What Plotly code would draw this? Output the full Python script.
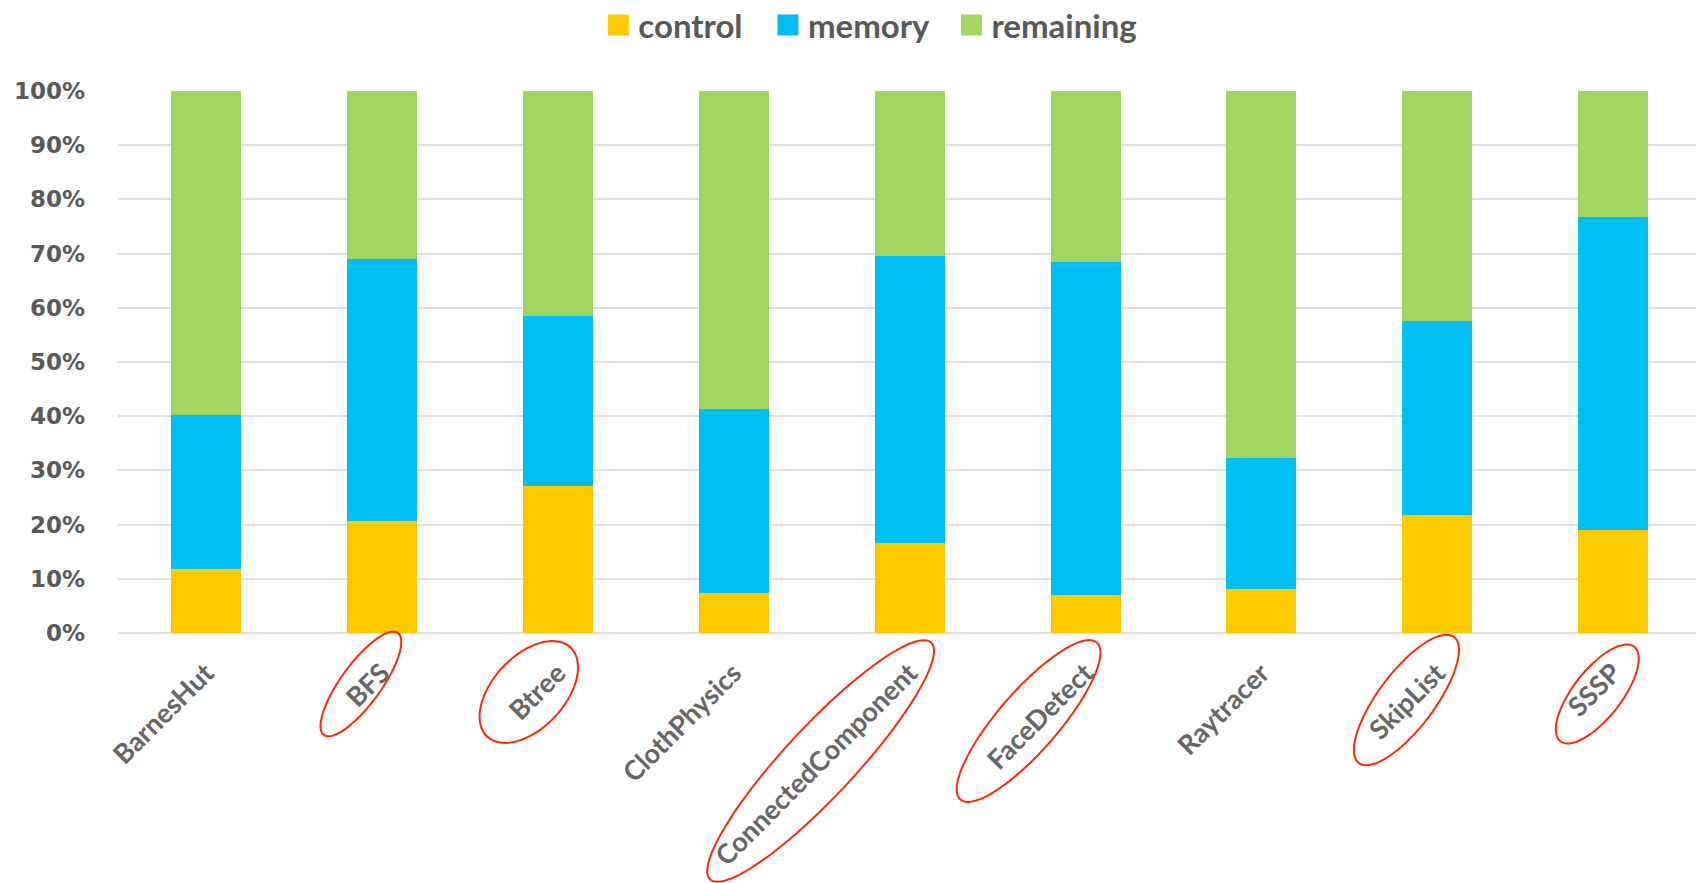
import numpy as np
import plotly.graph_objects as go

categories = ["BarnesHut", "BFS", "Btree", "ClothPhysics", "ConnectedComponent",
              "FaceDetect", "Raytracer", "SkipList", "SSSP"]
control = [11.9, 20.7, 27.2, 7.4, 16.6, 7.1, 8.2, 21.8, 19.0]
memory = [28.4, 48.3, 31.2, 34.0, 53.0, 61.4, 24.1, 35.8, 57.8]
remaining = [59.7, 31.0, 41.6, 58.6, 30.4, 31.5, 67.7, 42.4, 23.2]
y_ticks = [0, 10, 20, 30, 40, 50, 60, 70, 80, 90, 100]
y_tick_labels = [f"{v}%" for v in y_ticks]

series = [("control", control, "#FFC900", "legend", 0.3528),
          ("memory", memory, "#00BDF2", "legend2", 0.4528),
          ("remaining", remaining, "#A3D661", "legend3", 0.5610)]

# highlighted (circled) labels: category, centre offset x / y (px, up), semi-axes, angle
highlights = [("BFS", -21, -51, 63, 20, 54),
              ("Btree", -29, -59, 61, 36, 47),
              ("ConnectedComponent", -89, -128, 162, 35, 47),
              ("FaceDetect", -57, -88, 104, 30, 49),
              ("SkipList", -31, -67, 79, 28, 53),
              ("SSSP", -16, -61, 60, 24, 52)]

xpos = list(range(len(categories)))
fig = go.Figure()
legend_layouts = {}
for name, vals, col, leg, lx in series:
    fig.add_trace(go.Bar(x=xpos, y=vals, name=name, marker=dict(color=col, line=dict(width=0)),
                         legendgroup=name, showlegend=False))
    fig.add_trace(go.Scatter(x=[None], y=[None], mode="markers", name=name, legendgroup=name,
                             legend=leg,
                             marker=dict(symbol="square", size=16, color=col,
                                         line=dict(color=col, width=5)),
                             showlegend=True))
    legend_layouts[leg] = dict(orientation="h", x=lx, xanchor="left", xref="container",
                               y=0.9717, yanchor="middle", yref="container",
                               font=dict(family="Lato", size=33, color="#595959", weight="bold"),
                               bgcolor="rgba(0,0,0,0)",
                               itemclick=False, itemdoubleclick=False)

shapes = []
t = np.linspace(0, 2 * np.pi, 73)
for cat, ox, oy, a, b, ang in highlights:
    th = np.radians(ang)
    px = ox + a * np.cos(t) * np.cos(th) - b * np.sin(t) * np.sin(th)
    py = oy + a * np.cos(t) * np.sin(th) + b * np.sin(t) * np.cos(th)
    path = "M" + " L".join(f"{x:.2f},{y:.2f}" for x, y in zip(px, py)) + " Z"
    shapes.append(dict(type="path", path=path, xref="x", yref="paper",
                       xsizemode="pixel", ysizemode="pixel",
                       xanchor=categories.index(cat), yanchor=0,
                       line=dict(color="#FF2A00", width=2), layer="above"))

fig.update_layout(
    width=1696, height=883,
    margin=dict(l=118, r=0, t=91, b=250),
    barmode="stack", bargap=0.602,
    plot_bgcolor="white", paper_bgcolor="white",
    showlegend=True,
    xaxis=dict(range=[-0.5, 8.47], tickvals=xpos, ticktext=categories, tickangle=-45,
               showgrid=False, zeroline=False, showline=False, ticks="",
               ticklabelstandoff=18,
               tickfont=dict(family="Lato", size=27, color="#666666", weight="bold")),
    yaxis=dict(range=[0, 100], tickvals=y_ticks, ticktext=y_tick_labels, showgrid=True,
               gridcolor="#E0E0E0", gridwidth=1.5, zeroline=True, zerolinecolor="#E0E0E0",
               zerolinewidth=1.5, showline=False, ticks="", ticklabelstandoff=32,
               tickfont=dict(family="DejaVu Sans", size=23, color="#595959", weight="bold")),
    shapes=shapes,
    **legend_layouts,
)

fig.write_html("out.html")
